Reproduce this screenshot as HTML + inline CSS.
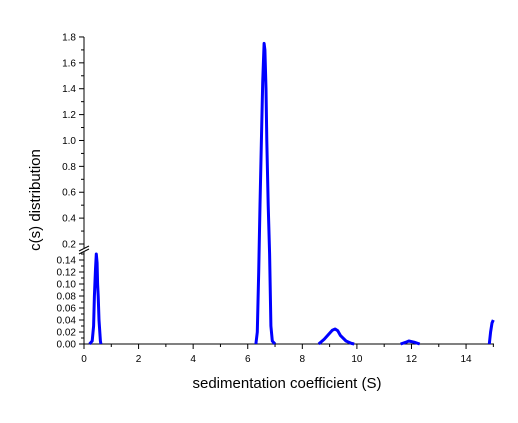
<!DOCTYPE html>
<html><head><meta charset="utf-8"><style>
html,body{margin:0;padding:0;background:#fff;}
svg{display:block;font-family:"Liberation Sans",Arial,sans-serif;}
</style></head><body>
<svg id="chart" width="518" height="423" viewBox="0 0 518 423"></svg>
<script>
const xTicks = [0,2,4,6,8,10,12,14];
const yUpperTicks = ["0.2","0.4","0.6","0.8","1.0","1.2","1.4","1.6","1.8"];
const yLowerTicks = ["0.00","0.02","0.04","0.06","0.08","0.10","0.12","0.14"];
const peak1X = [0.2,0.3,0.35,0.38,0.42,0.45,0.48,0.5,0.52,0.55,0.6,0.62];
const peak1Y = [0,0.005,0.03,0.08,0.125,0.15,0.135,0.1,0.08,0.04,0.005,0];
const peak2X = [6.3,6.35,6.4,6.45,6.5,6.55,6.6,6.63,6.67,6.7,6.75,6.8,6.85,6.9,7.0];
const peak2Y = [0,0.02,0.12,0.5,1.0,1.45,1.75,1.7,1.4,1.0,0.5,0.15,0.03,0.005,0];
const peak3X = [8.6,8.8,9.0,9.1,9.2,9.3,9.4,9.6,9.8,9.9];
const peak3Y = [0,0.008,0.018,0.023,0.025,0.022,0.014,0.005,0.001,0];
const peak4X = [11.6,11.8,11.9,12.0,12.1,12.3];
const peak4Y = [0,0.003,0.005,0.004,0.003,0];
const peak5X = [14.85,14.9,14.95,15.0];
const peak5Y = [0,0.02,0.035,0.04];

const NS="http://www.w3.org/2000/svg";
const svg=document.getElementById('chart');
const X0=84, XS=27.29;
function sx(v){return X0+v*XS;}
function sy(v){
  if(v<=0.15) return 344-v*600;
  if(v>=0.2) return 244-(v-0.2)*129.4;
  return 254-(v-0.15)/0.05*10;
}
function el(t,a,p){const e=document.createElementNS(NS,t);for(const k in a)e.setAttribute(k,a[k]);(p||svg).appendChild(e);return e;}

const axes=el('g',{});


const xaxis=el('line',{x1:84,y1:344,x2:494,y2:344,stroke:'#000','stroke-width':1},axes);


const ya1=el('line',{x1:84,y1:344,x2:84,y2:252,stroke:'#000','stroke-width':1},axes);


const ya2=el('line',{x1:84,y1:248,x2:84,y2:37,stroke:'#000','stroke-width':1},axes);


const brk=el('path',{d:'M79,254 L89,249 M79,251 L89,246',stroke:'#000','stroke-width':1,fill:'none'},axes);



for(let v=0;v<=15;v++){
  const major=v%2===0;
  el('line',{x1:sx(v),y1:344,x2:sx(v),y2:major?349:347,stroke:'#000'},axes);
}
xTicks.forEach(v=>{
  const t=el('text',{x:sx(v),y:362,'font-size':10,'text-anchor':'middle'},axes);
  t.textContent=v;
  
  
});
for(let i=2;i<=18;i++){
  const v=i/10, y=sy(v);
  el('line',{x1:84,y1:y,x2:(i%2===0)?79:81,y2:y,stroke:'#000'},axes);
}
yUpperTicks.forEach(s=>{
  const t=el('text',{x:76,y:sy(parseFloat(s))+3.5,'font-size':10,'text-anchor':'end'},axes);
  t.textContent=s;
  
  
});
for(let i=0;i<=15;i++){
  const v=i/100, y=sy(v);
  el('line',{x1:84,y1:y,x2:(i%2===0)?79:81,y2:y,stroke:'#000'},axes);
}
yLowerTicks.forEach(s=>{
  const t=el('text',{x:76,y:sy(parseFloat(s))+3.5,'font-size':10,'text-anchor':'end'},axes);
  t.textContent=s;
  
  
});

const series=el('g',{});


[[peak1X,peak1Y],[peak2X,peak2Y],[peak3X,peak3Y],[peak4X,peak4Y],[peak5X,peak5Y]].forEach((p,i)=>{
  const d=p[0].map((x,j)=>(j?'L':'M')+sx(x).toFixed(1)+','+sy(p[1][j]).toFixed(1)).join(' ');
  const path=el('path',{d:d,stroke:'#0000ff','stroke-width':3,fill:'none','stroke-linejoin':'round'},series);
  
  
});

const xt=el('text',{x:287,y:388,'font-size':15,'text-anchor':'middle'});
xt.textContent='sedimentation coefficient (S)';


const yt=el('text',{x:0,y:0,'font-size':15,'text-anchor':'middle',transform:'translate(40,200) rotate(-90)'});
yt.textContent='c(s) distribution';


</script>
</body></html>
